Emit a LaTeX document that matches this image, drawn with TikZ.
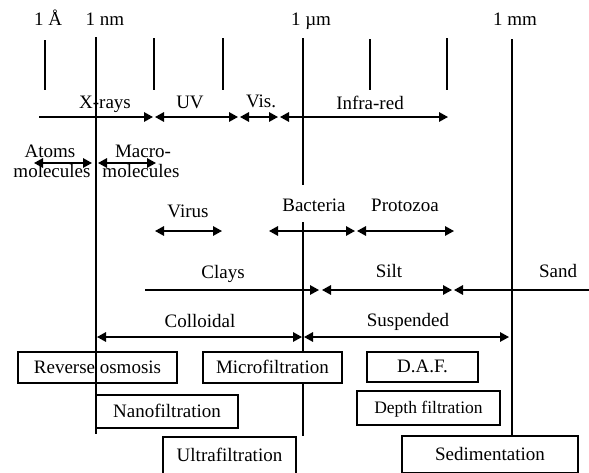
\documentclass[tikz,border=0pt]{standalone}
\usepackage{fontspec}
\setmainfont{Liberation Serif}
\usetikzlibrary{arrows.meta}
\begin{document}
\begin{tikzpicture}[x=1pt,y=-1pt,
  lbl/.style={font=\fontsize{19}{21}\selectfont, anchor=base, inner sep=0pt},
  vline/.style={line width=1.5pt},
  dbl/.style={line width=1.5pt, {Triangle[length=9pt,width=9.5pt]}-{Triangle[length=9pt,width=9.5pt]}},
  rar/.style={line width=1.5pt, -{Triangle[length=9pt,width=9.5pt]}},
  lar/.style={line width=1.5pt, {Triangle[length=9pt,width=9.5pt]}-},
  box/.style={draw, line width=1.8pt, fill=white, inner sep=0pt, text height=13pt, text depth=2pt,
    font=\fontsize{19}{21}\selectfont}]
\useasboundingbox (0,0) rectangle (589,472);

% scale labels
\node[lbl] (la) at (48,25) {1 Å};
\node[lbl] (lnm) at (105,25) {1 nm};
\node[lbl] (lum) at (311,25) {1 µm};
\node[lbl] (lmm) at (515,25) {1 mm};

% vertical lines and ticks
\coordinate (a1) at (45,40);  \coordinate (a2) at (45,90);
\coordinate (n1) at (96,37);  \coordinate (n2) at (96,434);
\coordinate (t1) at (154,38); \coordinate (t2) at (154,90);
\coordinate (t3) at (223,38); \coordinate (t4) at (223,90);
\coordinate (u1) at (303,38); \coordinate (u2) at (303,185);
\coordinate (u3) at (303,222); \coordinate (u4) at (303,436);
\coordinate (t5) at (370,39); \coordinate (t6) at (370,90);
\coordinate (t7) at (447,38); \coordinate (t8) at (447,90);
\coordinate (m1) at (512,39); \coordinate (m2) at (512,436);
\draw[vline] (a1) -- (a2);
\draw[vline] (n1) -- (n2);
\draw[vline] (t1) -- (t2);
\draw[vline] (t3) -- (t4);
\draw[vline] (u1) -- (u2);
\draw[vline] (u3) -- (u4);
\draw[vline] (t5) -- (t6);
\draw[vline] (t7) -- (t8);
\draw[vline] (m1) -- (m2);

% row 1: spectrum
\coordinate (x0) at (39,117);  \coordinate (x1) at (153,117);
\coordinate (v0) at (155,117); \coordinate (v1) at (238,117);
\coordinate (s0) at (240,117); \coordinate (s1) at (278,117);
\coordinate (i0) at (280,117); \coordinate (i1) at (448,117);
\draw[rar] (x0) -- (x1);
\draw[dbl] (v0) -- (v1);
\draw[dbl] (s0) -- (s1);
\draw[dbl] (i0) -- (i1);
\node[lbl] (xr) at (105,108) {X-rays};
\node[lbl] (uv) at (190,108) {UV};
\node[lbl] (vis) at (261,107) {Vis.};
\node[lbl] (ir) at (370,109) {Infra-red};

% row 2
\coordinate (at0) at (34,163); \coordinate (at1) at (92,163);
\coordinate (mm0) at (98,163); \coordinate (mm1) at (156,163);
\draw[dbl] (at0) -- (at1);
\draw[dbl] (mm0) -- (mm1);
\node[lbl] (atoms) at (50,157) {Atoms};
\node[lbl] (mol1) at (52,177) {molecules};
\node[lbl] (macro) at (143,157) {Macro-};
\node[lbl] (mol2) at (141,177) {molecules};

% row 3
\coordinate (vi0) at (155,231); \coordinate (vi1) at (222,231);
\coordinate (ba0) at (269,231); \coordinate (ba1) at (355,231);
\coordinate (pr0) at (357,231); \coordinate (pr1) at (454,231);
\draw[dbl] (vi0) -- (vi1);
\draw[dbl] (ba0) -- (ba1);
\draw[dbl] (pr0) -- (pr1);
\node[lbl] (virus) at (188,217) {Virus};
\node[lbl] (bact) at (314,211) {Bacteria};
\node[lbl] (proto) at (405,211) {Protozoa};

% row 4
\coordinate (cl0) at (145,290); \coordinate (cl1) at (319,290);
\coordinate (si0) at (322,290); \coordinate (si1) at (452,290);
\coordinate (sa0) at (454,290); \coordinate (sa1) at (589,290);
\draw[rar] (cl0) -- (cl1);
\draw[dbl] (si0) -- (si1);
\draw[lar] (sa0) -- (sa1);
\node[lbl] (clays) at (223,278) {Clays};
\node[lbl] (silt) at (389,277) {Silt};
\node[lbl] (sand) at (558,277) {Sand};

% row 5
\coordinate (co0) at (97,337); \coordinate (co1) at (302,337);
\coordinate (su0) at (304,337); \coordinate (su1) at (509,337);
\draw[dbl] (co0) -- (co1);
\draw[dbl] (su0) -- (su1);
\node[lbl] (coll) at (200,327) {Colloidal};
\node[lbl] (susp) at (408,326) {Suspended};

% process boxes
\node[box, fill=none, minimum width=159pt, minimum height=31pt] (ro) at (97.5,367.5) {Reverse osmosis};
\node[box, minimum width=139pt, minimum height=31pt] (mf) at (272.5,367.5) {Microfiltration};
\node[box, minimum width=111pt, minimum height=30pt] (daf) at (422.5,367) {D.A.F.};
\node[box, fill=none, minimum width=142pt, minimum height=33pt] (nf) at (167,411.5) {Nanofiltration};
\node[box, minimum width=143pt, minimum height=34pt, font=\fontsize{17.5}{19}\selectfont] (df) at (428.5,408) {Depth filtration};
\node[box, minimum width=133pt, minimum height=37pt] (uf) at (229.5,455.5) {Ultrafiltration};
\node[box, minimum width=176pt, minimum height=37pt] (sed) at (490,454.5) {Sedimentation};
\end{tikzpicture}
\end{document}
